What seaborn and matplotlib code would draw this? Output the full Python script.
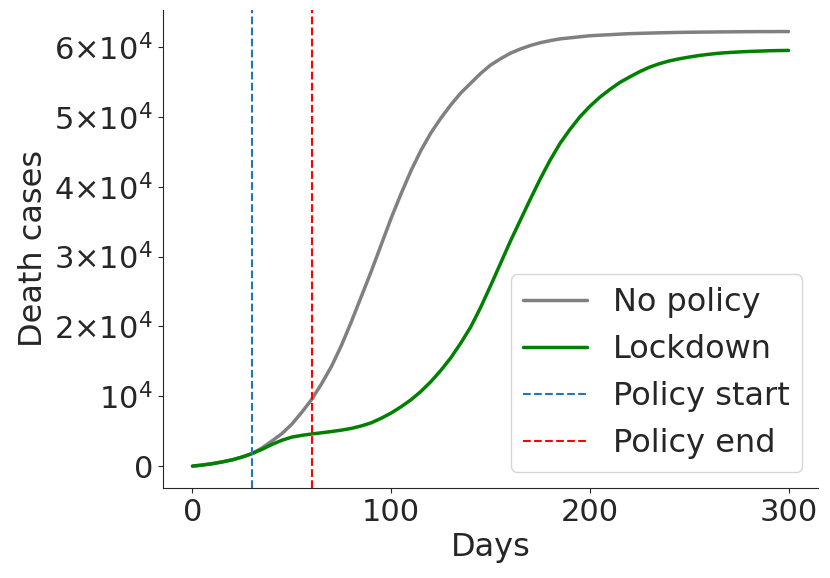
import numpy as np
import pandas as pd
import matplotlib
matplotlib.use("Agg")
import matplotlib.pyplot as plt
from matplotlib.ticker import FuncFormatter
import seaborn as sns

# values every 5 days, deaths in units of 10^4
days = list(range(0, 301, 5))
no_policy = [0, 0.015, 0.035, 0.06, 0.09, 0.13, 0.18, 0.26, 0.36, 0.465,
             0.60, 0.77, 0.955, 1.18, 1.43, 1.73, 2.07, 2.43, 2.79, 3.17,
             3.55, 3.90, 4.23, 4.52, 4.77, 4.98, 5.17, 5.34, 5.48, 5.62,
             5.74, 5.83, 5.91, 5.97, 6.02, 6.06, 6.09, 6.115, 6.13, 6.145,
             6.16, 6.168, 6.175, 6.183, 6.19, 6.194, 6.198, 6.202, 6.205, 6.208,
             6.21, 6.212, 6.213, 6.215, 6.216, 6.217, 6.218, 6.219, 6.219, 6.22,
             6.22]
lockdown = [0, 0.015, 0.035, 0.06, 0.09, 0.13, 0.18, 0.24, 0.31, 0.37,
            0.415, 0.44, 0.46, 0.477, 0.495, 0.515, 0.54, 0.575, 0.62, 0.685,
            0.76, 0.85, 0.95, 1.07, 1.21, 1.37, 1.55, 1.76, 1.99, 2.27,
            2.58, 2.90, 3.22, 3.52, 3.82, 4.11, 4.38, 4.62, 4.82, 5.00,
            5.15, 5.28, 5.39, 5.49, 5.57, 5.645, 5.71, 5.76, 5.80, 5.83,
            5.855, 5.877, 5.895, 5.91, 5.92, 5.928, 5.935, 5.94, 5.945, 5.948,
            5.95]
policy_start = 30
policy_end = 60

df = pd.DataFrame({
    "Days": days * 2,
    "Deaths": np.array(no_policy + lockdown) * 1e4,
    "Scenario": ["No policy"] * len(days) + ["Lockdown"] * len(days),
})

sns.set_style("ticks")
fig, ax = plt.subplots(figsize=(8.3, 5.78), dpi=100)
fig.subplots_adjust(left=0.196, right=0.986, top=0.983, bottom=0.156)

sns.lineplot(data=df, x="Days", y="Deaths", hue="Scenario",
             palette={"No policy": "gray", "Lockdown": "green"},
             linewidth=2.5, ax=ax)
ax.axvline(policy_start, color="tab:blue", linestyle="--", linewidth=1.5, label="Policy start")
ax.axvline(policy_end, color="red", linestyle="--", linewidth=1.5, label="Policy end")

def fmt(v, pos):
    n = int(round(v / 1e4))
    if n == 0:
        return "0"
    if n == 1:
        return r"$10^{4}$"
    return r"$%d{\times}10^{4}$" % n

ax.yaxis.set_major_formatter(FuncFormatter(fmt))
ax.set_xticks([0, 100, 200, 300])
ax.tick_params(labelsize=22)
ax.set_xlabel("Days", fontsize=23)
ax.set_ylabel("Death cases", fontsize=23)
ax.legend(fontsize=23, loc="lower right")
sns.despine(ax=ax)

plt.savefig("out.png", dpi=100)
